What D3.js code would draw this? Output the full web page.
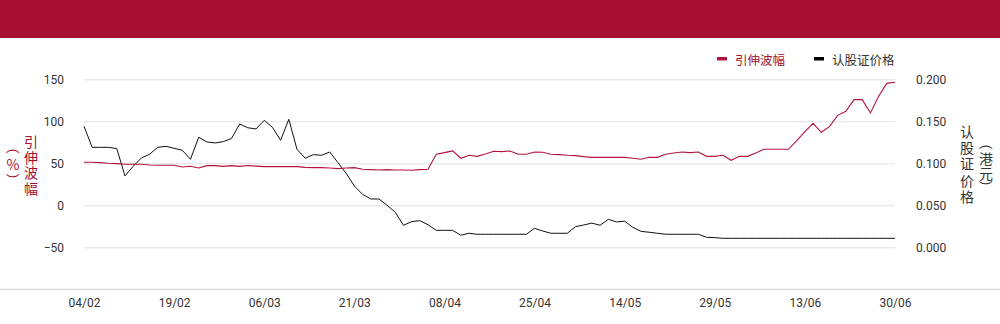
<!DOCTYPE html>
<html>
<head>
<meta charset="utf-8">
<script src="https://cdn.jsdelivr.net/npm/d3@7"></script>
<style>
  body { margin: 0; background: #fff; }
  svg { display: block; font-family: Roboto, "Noto Sans CJK SC", sans-serif; }
</style>
</head>
<body>
<svg id="chart" width="1000" height="324"></svg>
<script>
// trading days (HK), 04/02 - 30/06
var dates = [
  "04/02","05/02","06/02","07/02","10/02","11/02","12/02","13/02","14/02","17/02",
  "18/02","19/02","20/02","21/02","24/02","25/02","26/02","27/02","28/02",
  "03/03","04/03","05/03","06/03","07/03","10/03","11/03","12/03","13/03","14/03",
  "17/03","18/03","19/03","20/03","21/03","24/03","25/03","26/03","27/03","28/03","31/03",
  "01/04","02/04","03/04","07/04","08/04","09/04","10/04","11/04","14/04","15/04",
  "16/04","17/04","22/04","23/04","24/04","25/04","28/04","29/04","30/04",
  "02/05","06/05","07/05","08/05","09/05","12/05","13/05","14/05","15/05","16/05",
  "19/05","20/05","21/05","22/05","23/05","26/05","27/05","28/05","29/05","30/05",
  "02/06","03/06","04/06","05/06","06/06","09/06","10/06","11/06","12/06","13/06",
  "16/06","17/06","18/06","19/06","20/06","23/06","24/06","25/06","26/06","27/06","30/06"
]
var tickDates = ["04/02","19/02","06/03","21/03","08/04","25/04","14/05","29/05","13/06","30/06"]

// 引伸波幅 (%)
var volatility = [
  51.2, 51.2, 50.8, 50.0, 49.6, 48.8, 48.8, 48.8, 48.0, 47.6,
  47.6, 47.6, 45.6, 46.4, 44.4, 47.2, 47.2, 46.4, 47.2, 46.4,
  47.4, 46.6, 46.0, 46.0, 46.0, 46.0, 46.0, 45.2, 44.8, 44.8,
  44.4, 43.7, 44.4, 44.8, 42.9, 42.5, 42.1, 42.5, 42.1, 42.1,
  41.7, 42.5, 42.9, 60.7, 62.7, 64.7, 56.0, 59.5, 58.3, 61.1,
  64.3, 63.9, 64.7, 60.7, 60.7, 63.5, 63.1, 60.7, 60.3, 59.5,
  59.1, 57.9, 57.1, 57.1, 57.1, 57.1, 57.1, 56.0, 54.8, 57.1,
  57.1, 60.7, 62.3, 63.5, 62.7, 63.5, 58.3, 58.3, 59.5, 53.6,
  58.3, 58.3, 62.3, 66.7, 66.7, 66.7, 66.7, 77.0, 87.7, 97.6,
  86.9, 93.7, 107.1, 111.9, 125.8, 125.8, 109.9, 129.8, 145.2, 146.4
]

// 认股证价格 (港元)
var price = [
  0.144, 0.119, 0.119, 0.119, 0.1175, 0.085, 0.0964, 0.1063, 0.1107, 0.119,
  0.1202, 0.1179, 0.1155, 0.1048, 0.131, 0.1254, 0.1242, 0.1258, 0.1294, 0.1468,
  0.1423, 0.1409, 0.1512, 0.1429, 0.1274, 0.1524, 0.1167, 0.106, 0.1103, 0.1095,
  0.1135, 0.1008, 0.0881, 0.073, 0.0631, 0.0575, 0.0575, 0.05, 0.0417, 0.0262,
  0.0306, 0.0317, 0.0268, 0.0202, 0.0202, 0.0202, 0.0143, 0.0167, 0.0155, 0.0155,
  0.0155, 0.0155, 0.0155, 0.0155, 0.0155, 0.0226, 0.0194, 0.0167, 0.0167, 0.0167,
  0.0246, 0.0266, 0.0288, 0.0262, 0.0333, 0.0302, 0.031, 0.0238, 0.019, 0.0179,
  0.0167, 0.0155, 0.0155, 0.0155, 0.0155, 0.0155, 0.0119, 0.0115, 0.0107, 0.0107,
  0.0107, 0.0107, 0.0107, 0.0107, 0.0107, 0.0107, 0.0107, 0.0107, 0.0107, 0.0107,
  0.0107, 0.0107, 0.0107, 0.0107, 0.0107, 0.0107, 0.0107, 0.0107, 0.0107, 0.0107
]

var leftTicks = [-50, 0, 50, 100, 150]
var rightTicks = [0, 0.05, 0.1, 0.15, 0.2]

var RED = "#a50f32"
var LINE_RED = "#b3143f"
var TEXT = "#333"

var svg = d3.select("#chart")

// header bar
svg.append("rect")
  .attr("x", 0).attr("y", 0)
  .attr("width", 1000).attr("height", 38)
  .attr("fill", RED)

var plotLeft = 84, plotRight = 895, plotTop = 79.3, plotBottom = 289.3

var x = d3.scalePoint().domain(dates).range([plotLeft, plotRight])
var yL = d3.scaleLinear().domain([-100, 150]).range([plotBottom, plotTop])
var yR = d3.scaleLinear().domain([-0.05, 0.2]).range([plotBottom, plotTop])

// gridlines
svg.append("g")
  .attr("transform", "translate(" + plotLeft + ",0)")
  .call(d3.axisLeft(yL).tickValues(leftTicks).tickSize(-(plotRight - plotLeft)).tickFormat(""))
  .call(function(g) {
    g.select(".domain").remove()
    g.selectAll("line").attr("stroke", "#e0e0e0").attr("stroke-width", 1)
  })

// bottom line, full width
svg.append("line")
  .attr("x1", 0).attr("x2", 1000)
  .attr("y1", plotBottom).attr("y2", plotBottom)
  .attr("stroke", "#cfcfcf")

// left axis labels
svg.append("g")
  .attr("transform", "translate(64,0)")
  .call(d3.axisLeft(yL).tickValues(leftTicks).tickSize(0).tickPadding(0))
  .call(function(g) {
    g.select(".domain").remove()
    g.selectAll("text").attr("fill", TEXT).style("font-size", "12px").style("font-family", "Roboto, sans-serif")
  })

// right axis labels
svg.append("g")
  .attr("transform", "translate(916,0)")
  .call(d3.axisRight(yR).tickValues(rightTicks).tickSize(0).tickPadding(0).tickFormat(d3.format(".3f")))
  .call(function(g) {
    g.select(".domain").remove()
    g.selectAll("text").attr("fill", TEXT).style("font-size", "12px").style("font-family", "Roboto, sans-serif")
  })

// x axis labels
svg.append("g")
  .attr("transform", "translate(0," + (plotBottom + 9) + ")")
  .call(d3.axisBottom(x).tickValues(tickDates).tickSize(0).tickPadding(0))
  .call(function(g) {
    g.select(".domain").remove()
    g.selectAll("text").attr("fill", TEXT).style("font-size", "12px").style("font-family", "Roboto, sans-serif")
  })

// lines
var lineL = d3.line()
  .x(function(d, i) { return x(dates[i]) })
  .y(function(d) { return yL(d) })
var lineR = d3.line()
  .x(function(d, i) { return x(dates[i]) })
  .y(function(d) { return yR(d) })

svg.append("path")
  .attr("d", lineR(price))
  .attr("fill", "none")
  .attr("stroke", "#111")
  .attr("stroke-width", 1)

svg.append("path")
  .attr("d", lineL(volatility))
  .attr("fill", "none")
  .attr("stroke", LINE_RED)
  .attr("stroke-width", 1.1)

// vertical title: one text, one tspan per character
function verticalText(chars, cx, y0, step, color) {
  svg.append("text")
    .attr("text-anchor", "middle")
    .attr("dominant-baseline", "central")
    .attr("fill", color)
    .style("font-size", "14px")
    .style("font-family", "'Noto Sans CJK SC', sans-serif")
    .selectAll("tspan")
    .data(chars)
    .enter().append("tspan")
    .attr("x", cx)
    .attr("y", function(d, i) { return y0 + i * step })
    .text(function(d) { return d })
}
// bracket turned on its side
function sideBracket(c, cx, cy, color) {
  svg.append("text")
    .attr("transform", "translate(" + cx + "," + cy + ") rotate(90)")
    .attr("text-anchor", "middle")
    .attr("dominant-baseline", "central")
    .attr("fill", color)
    .style("font-size", "13px")
    .style("font-family", "Roboto, sans-serif")
    .text(c)
}

verticalText(["引", "伸", "波", "幅"], 31, 141, 15.6, RED)
sideBracket("(", 13, 151, RED)
verticalText(["%"], 13, 163.5, 0, RED)
sideBracket(")", 13, 176, RED)

verticalText(["认", "股", "证", "价", "格"], 967, 131, 16.2, TEXT)
sideBracket("(", 986, 147, TEXT)
verticalText(["港", "元"], 986, 157.5, 15, TEXT)
sideBracket(")", 986, 183, TEXT)

// legend
var legend = [
  { name: "引伸波幅", color: LINE_RED, text: RED, x: 717 },
  { name: "认股证价格", color: "#000", text: TEXT, x: 814 }
]
var lg = svg.append("g").selectAll("g")
  .data(legend)
  .enter().append("g")
  .attr("transform", function(d) { return "translate(" + d.x + ",59)" })
lg.append("rect")
  .attr("x", 0).attr("y", -2)
  .attr("width", 10).attr("height", 3.5)
  .attr("fill", function(d) { return d.color })
lg.append("text")
  .attr("x", 18).attr("y", 0)
  .attr("dominant-baseline", "central")
  .attr("fill", function(d) { return d.text })
  .style("font-size", "12.5px")
  .style("font-family", "'Noto Sans CJK SC', sans-serif")
  .text(function(d) { return d.name })
</script>
</body>
</html>
